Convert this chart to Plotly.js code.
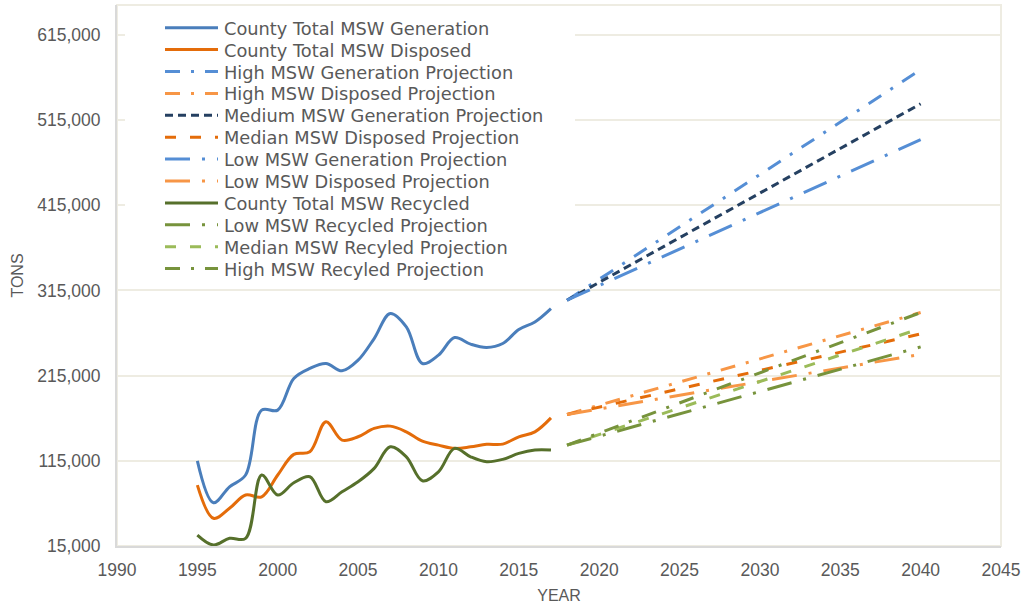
<!DOCTYPE html>
<html><head><meta charset="utf-8">
<script src="https://cdn.plot.ly/plotly-3.0.1.min.js"></script>
<style>html,body{margin:0;padding:0;background:#fff}#chart{width:1025px;height:611px}</style>
</head><body><div id="chart"></div><script>
const histYears = [1995,1996,1997,1998,1999,2000,2001,2002,2003,2004,2005,2006,2007,2008,2009,2010,2011,2012,2013,2014,2015,2016,2017];
const countyGeneration = [115000,65800,84500,98300,174500,174500,211600,223400,229200,220600,233100,258500,287900,272200,229200,239000,259700,251900,248000,252700,269100,278000,293700];
const countyDisposed = [86500,47500,59200,74800,72800,98300,122500,125600,160800,139300,143200,153000,155700,149000,138100,133400,129600,131400,134300,134600,143200,149000,165400];
const countyRecycled = [27900,16200,24000,24000,98300,74800,89200,96300,66900,78700,90400,106100,131400,119700,91600,102100,129600,119700,113900,116700,123700,127600,127600];

const projYears = [2018, 2040];
const highGeneration = [303500, 574000];
const mediumGeneration = [303500, 534000];
const lowGeneration = [303500, 492000];
const highDisposed = [169400, 289000];
const medianDisposed = [169400, 264000];
const lowDisposed = [169400, 240000];
const lowRecycled = [133400, 248700];
const medianRecycled = [133400, 270300];
const highRecycled = [133400, 289000];

const FONT = 'Liberation Sans, Arial, sans-serif';
const LEGFONT = 'DejaVu Sans, sans-serif';
const GREY = '#595959';

function tr(name, x, y, color, dash, spline) {
  return {
    type: 'scatter', mode: 'lines', name: name, x: x, y: y,
    line: {color: color, width: 3, dash: dash || 'solid', shape: spline ? 'spline' : 'linear', smoothing: 1},
    hoverinfo: 'skip', showlegend: false
  };
}
const DASHDOT = '15px,11px,3px,11px';
const LONGDASHDOT = '25px,12px,3px,12px';
const MEDDASH = '11px,14px';
const SHORTDASH = '8px,5px';

const data = [
  tr('County Total MSW Generation', histYears, countyGeneration, '#4A7EBB', 'solid', true),
  tr('County Total MSW Disposed', histYears, countyDisposed, '#E46C0A', 'solid', true),
  tr('High MSW Generation Projection', projYears, highGeneration, '#558ED5', DASHDOT),
  tr('High MSW Disposed Projection', projYears, highDisposed, '#F79646', DASHDOT),
  tr('Medium MSW Generation Projection', projYears, mediumGeneration, '#254061', SHORTDASH),
  tr('Median MSW Disposed Projection', projYears, medianDisposed, '#E46C0A', MEDDASH),
  tr('Low MSW Generation Projection', projYears, lowGeneration, '#558ED5', LONGDASHDOT),
  tr('Low MSW Disposed Projection', projYears, lowDisposed, '#F79646', LONGDASHDOT),
  tr('County Total MSW Recycled', histYears, countyRecycled, '#56702B', 'solid', true),
  tr('Low MSW Recycled Projection', projYears, lowRecycled, '#77933C', LONGDASHDOT),
  tr('Median MSW Recyled Projection', projYears, medianRecycled, '#9BBB59', MEDDASH),
  tr('High MSW Recyled Projection', projYears, highRecycled, '#77933C', DASHDOT)
];

// plot area in pixels (for legend placement)
const PL = 117, PR = 1001, PT = 5, PB = 546;
const px = v => (v - PL) / (PR - PL);
const py = v => (PB - v) / (PB - PT);

const shapes = [
  {type: 'rect', xref: 'paper', yref: 'paper', x0: 0, x1: 1, y0: 0, y1: 1,
   line: {color: '#EEECE2', width: 2}, layer: 'below'},
  {type: 'rect', xref: 'paper', yref: 'paper', x0: px(125), x1: px(575), y0: py(284), y1: py(12),
   line: {width: 0}, fillcolor: '#ffffff', layer: 'above'}
];
const annotations = [];
data.forEach((t, i) => {
  const yc = 27.7 + 21.9 * i;
  shapes.push({type: 'line', xref: 'paper', yref: 'paper', x0: px(165), x1: px(218), y0: py(yc), y1: py(yc),
    line: {color: t.line.color, width: 3, dash: t.line.dash}, layer: 'above'});
  annotations.push({xref: 'paper', yref: 'paper', x: px(222), y: py(yc + 0.5), xanchor: 'left', yanchor: 'middle',
    text: t.name, showarrow: false, font: {family: LEGFONT, size: 17.8, color: GREY}});
});

const layout = {
  width: 1025, height: 611,
  margin: {l: 117, r: 24, t: 5, b: 65},
  paper_bgcolor: '#ffffff', plot_bgcolor: '#ffffff',
  font: {family: FONT, color: GREY, size: 17},
  showlegend: false,
  xaxis: {
    range: [1990, 2045], tick0: 1990, dtick: 5, ticks: '',
    showgrid: false, zeroline: false,
    showline: true, linecolor: '#D9D9D9', linewidth: 2,
    tickfont: {family: FONT, size: 17.5, color: GREY},
    ticklabelstandoff: 7,
    title: {text: 'YEAR', font: {family: FONT, size: 16, color: GREY}, standoff: 11}
  },
  yaxis: {
    range: [15000, 650000], tick0: 15000, dtick: 100000, tickformat: ',d', ticks: '',
    showgrid: true, gridcolor: '#EEECE2', gridwidth: 2, zeroline: false,
    showline: true, linecolor: '#D9D9D9', linewidth: 2,
    tickfont: {family: FONT, size: 17.5, color: GREY},
    ticklabelstandoff: 11,
    title: {text: 'TONS', font: {family: FONT, size: 16, color: GREY}, standoff: 10}
  },
  shapes: shapes,
  annotations: annotations
};

Plotly.newPlot('chart', data, layout, {displayModeBar: false, staticPlot: true});
</script></body></html>
